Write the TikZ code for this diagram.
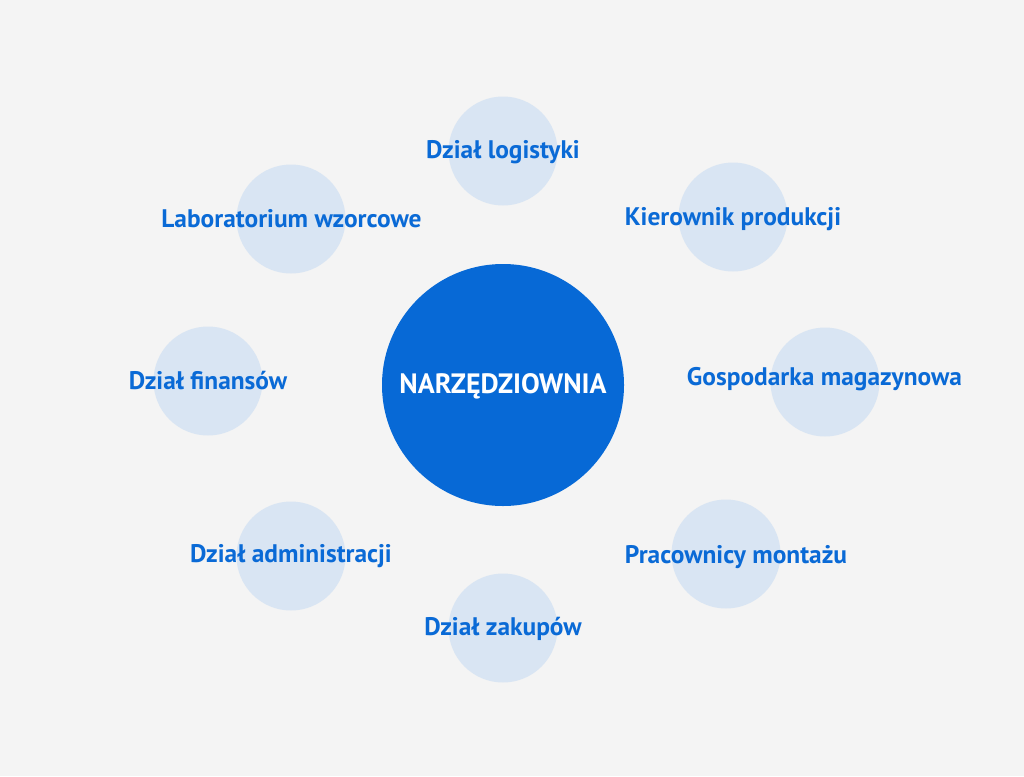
\documentclass[tikz,border=0pt]{standalone}
\usepackage{fontspec}
\setmainfont{PT Sans}
\usepackage{tikz}
\usetikzlibrary{positioning}
\usepackage{xcolor}
\definecolor{backg}{HTML}{F4F4F4}
\definecolor{corefill}{HTML}{0769D6}
\definecolor{bubfill}{HTML}{D9E5F3}
\definecolor{labtext}{HTML}{0A6AD6}

\begin{document}
\begin{tikzpicture}[x=1pt,y=-1pt,
		bub/.style={circle, fill=bubfill, minimum size=109pt, inner sep=0pt},
		lab/.style={text=labtext, font=\bfseries\fontsize{25.4}{28}\selectfont, inner sep=0pt},
		core/.style={circle, fill=corefill, minimum size=242pt, inner sep=0pt, text=white, font=\bfseries\fontsize{28}{32}\selectfont}]
		\fill[backg] (0,0) rectangle (1024,776);
		
		\path (503,385) node[core] (c) {}
		(503,151) node[bub] (b1) {}
		(733,217) node[bub] (b2) {}
		(825,382) node[bub] (b3) {}
		(726,554) node[bub] (b4) {}
		(503,628) node[bub] (b5) {}
		(291,556) node[bub] (b6) {}
		(208,381) node[bub] (b7) {}
		(291,219) node[bub] (b8) {};
		
		\path (503,386) node[core, fill=none, minimum size=0pt] (ct) {NARZĘDZIOWNIA}
		(503,152) node[lab] (t1) {Dział logistyki}
		(733,219) node[lab] (t2) {Kierownik produkcji}
		(824.5,379) node[lab] (t3) {Gospodarka magazynowa}
		(736,557) node[lab] (t4) {Pracownicy montażu}
		(503,629) node[lab] (t5) {Dział zakupów}
		(291,556) node[lab] (t6) {Dział administracji}
		(208,381) node[lab] (t7) {Dział finansów}
		(291.5,219) node[lab] (t8) {Laboratorium wzorcowe};
	\end{tikzpicture}
\end{document}
